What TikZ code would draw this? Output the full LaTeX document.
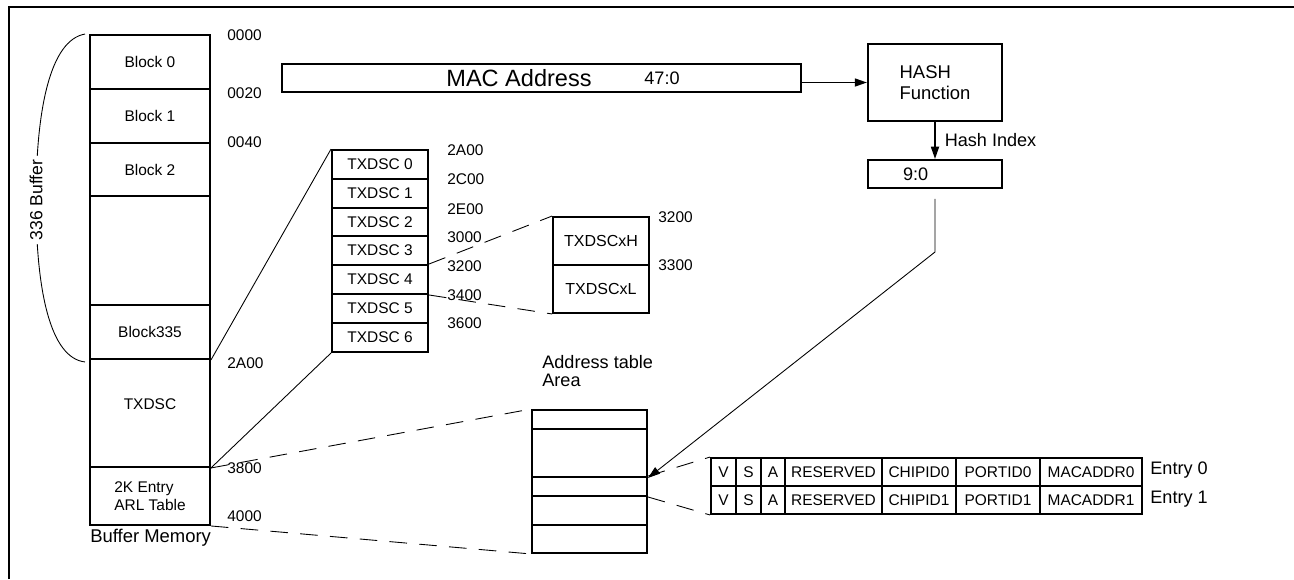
\documentclass[tikz,border=0pt]{standalone}
\usepackage{fontspec}
\setmainfont{Liberation Sans}
\usetikzlibrary{arrows.meta,positioning,calc}
\newcommand\blkfont{\fontsize{8.8}{10.5}\selectfont}
\newcommand\lblfont{\fontsize{10.3}{10.6}\selectfont}
\newcommand\macfont{\fontsize{13.4}{15}\selectfont}

\begin{document}
\begin{tikzpicture}[x=0.02cm, y=-0.02cm,
  box/.style={draw, line width=1.1pt, inner sep=0pt, font=\blkfont, align=center},
  mem/.style={box, minimum width=2.4cm},
  txd/.style={box, minimum width=1.92cm, minimum height=0.58cm},
  atab/.style={box, minimum width=2.3cm},
  cell/.style={box, minimum height=0.56cm},
  addr/.style={anchor=west, inner sep=0pt, font=\blkfont},
  lbl/.style={inner sep=0pt, font=\lblfont},
  conn/.style={line width=0.5pt},
  dsh/.style={conn, dash pattern=on 10pt off 7pt},
  arr/.style={-{Triangle[length=7pt,width=4.5pt]}}
]
\useasboundingbox (0,0) rectangle (1294,579);
% frame
\draw[line width=1.1pt] (9,579) -- (9,7) -- (1294,7);

% buffer memory
\node[mem, minimum height=1.08cm] (blk0) at (150,62) {Block 0};
\node[mem, minimum height=1.08cm] (blk1) at (150,116) {Block 1};
\node[mem, minimum height=1.06cm] (blk2) at (150,169.5) {Block 2};
\node[mem, minimum height=2.18cm] (blkn) at (150,250.5) {};
\node[mem, minimum height=1.08cm] (blk335) at (150,332) {Block335};
\node[mem, minimum height=2.16cm, text depth=10pt] (memtx) at (150,413) {TXDSC};
\node[mem, minimum height=1.16cm, align=left] (arl) at (150,496) {2K Entry\\ARL Table};
\node[lbl, anchor=west, font=\fontsize{10.5}{12}\selectfont] (bufmem) at (90,538) {Buffer Memory};

\node[addr] (m0000) at (227,35) {0000};
\node[addr] (m0020) at (227,93) {0020};
\node[addr] (m0040) at (227,142) {0040};
\node[addr] (m2a00) at (227,363) {2A00};
\node[addr] (m3800) at (227,468) {3800};
\node[addr] (m4000) at (227,516) {4000};

% 336 buffer brace
\draw[conn] ($(blk0.north west)+(-4,0)$) .. controls (50,40) and (36,110) .. (36,200)
  node[lbl, rotate=90, fill=white, inner sep=2pt, font=\fontsize{10}{12}\selectfont] (bufcnt) {336 Buffer}
  .. controls (36,290) and (50,358) .. ($(blk335.south west)+(-4,2)$);

% TXDSC descriptors
\node[txd] (tx0) at (380,164.5) {TXDSC 0};
\node[txd] (tx1) at (380,193.5) {TXDSC 1};
\node[txd] (tx2) at (380,222) {TXDSC 2};
\node[txd] (tx3) at (380,250.5) {TXDSC 3};
\node[txd] (tx4) at (380,279.5) {TXDSC 4};
\node[txd] (tx5) at (380,308.5) {TXDSC 5};
\node[txd] (tx6) at (380,337.5) {TXDSC 6};

\node[addr] (t2a00) at (447,150) {2A00};
\node[addr] (t2c00) at (447,179) {2C00};
\node[addr] (t2e00) at (447,209) {2E00};
\node[addr] (t3000) at (447,237) {3000};
\node[addr] (t3200) at (447,266) {3200};
\node[addr] (t3400) at (447,295) {3400};
\node[addr] (t3600) at (447,323) {3600};

\node[box, minimum width=1.92cm, minimum height=0.96cm, font=\fontsize{9.1}{11}\selectfont] (txh) at (601,241) {TXDSCxH};
\node[box, minimum width=1.92cm, minimum height=0.96cm, font=\fontsize{9.1}{11}\selectfont] (txl) at (601,289) {TXDSCxL};
\node[addr] (h3200) at (658,217) {3200};
\node[addr] (h3300) at (658,265) {3300};

\draw[conn] (blk335.south east) -- (tx0.north west);
\draw[conn] (memtx.south east) -- (tx6.south west);
\draw[dsh] (tx4.north east) -- (txh.north west);
\draw[dsh] (tx4.south east) -- (txl.south west);

% MAC address and hash
\node[box, minimum width=10.38cm, minimum height=0.56cm] (mac) at (541.5,78) {};
\node[lbl, font=\macfont] (macname) at (519,78) {MAC Address};
\node[lbl] (macbits) at (662,78) {47:0};
\node[box, minimum width=2.68cm, minimum height=1.54cm, align=left, font=\fontsize{10.5}{12}\selectfont] (hash) at (935,82.5) {HASH\\Function};
\node[box, minimum width=2.68cm, minimum height=0.56cm, font=\lblfont] (idx) at (935,174) {9:0\hspace{22pt}};
\coordinate (hk) at (935,252);

\draw[arr, line width=1.1pt] (mac.east |- hash.west) -- (hash.west);
\draw[arr, line width=1.1pt] (hash.south) -- (idx.north)
  node[midway, right=5pt, lbl] (hidx) {Hash Index};

% address table
\node[lbl, anchor=west, align=left] (atarea) at (542,371) {Address table\\Area};
\node[atab, minimum height=0.38cm] (at0) at (589.5,419.5) {};
\node[atab, minimum height=0.96cm] (at1) at (589.5,453) {};
\node[atab, minimum height=0.38cm] (at2) at (589.5,486.5) {};
\node[atab, minimum height=0.58cm] (at3) at (589.5,510.5) {};
\node[atab, minimum height=0.56cm] (at4) at (589.5,539) {};

\draw[dsh] (memtx.south east) -- (at0.north west);
\draw[dsh] (arl.south east) -- (at4.south west);
\draw[conn, arr] ($(idx.south)+(0,10)$) -- (hk) -- (at1.south east);

% ARL entries
\node[cell, minimum width=0.5cm] (e0v) at (723.5,472) {V};
\node[cell, minimum width=0.5cm] (e0s) at (748.5,472) {S};
\node[cell, minimum width=0.48cm] (e0a) at (773,472) {A};
\node[cell, minimum width=1.94cm] (e0r) at (833.5,472) {RESERVED};
\node[cell, minimum width=1.48cm] (e0c) at (919,472) {CHIPID0};
\node[cell, minimum width=1.68cm] (e0p) at (998,472) {PORTID0};
\node[cell, minimum width=2.04cm] (e0m) at (1091,472) {MACADDR0};
\node[cell, minimum width=0.5cm] (e1v) at (723.5,500) {V};
\node[cell, minimum width=0.5cm] (e1s) at (748.5,500) {S};
\node[cell, minimum width=0.48cm] (e1a) at (773,500) {A};
\node[cell, minimum width=1.94cm] (e1r) at (833.5,500) {RESERVED};
\node[cell, minimum width=1.48cm] (e1c) at (919,500) {CHIPID1};
\node[cell, minimum width=1.68cm] (e1p) at (998,500) {PORTID1};
\node[cell, minimum width=2.04cm] (e1m) at (1091,500) {MACADDR1};
\node[lbl, anchor=west] (ent0) at (1150,470) {Entry 0};
\node[lbl, anchor=west] (ent1) at (1150,499) {Entry 1};

\draw[dsh] (at2.north east) -- (e0v.north west);
\draw[dsh] (at2.south east) -- (e1v.south west);
\end{tikzpicture}
\end{document}
